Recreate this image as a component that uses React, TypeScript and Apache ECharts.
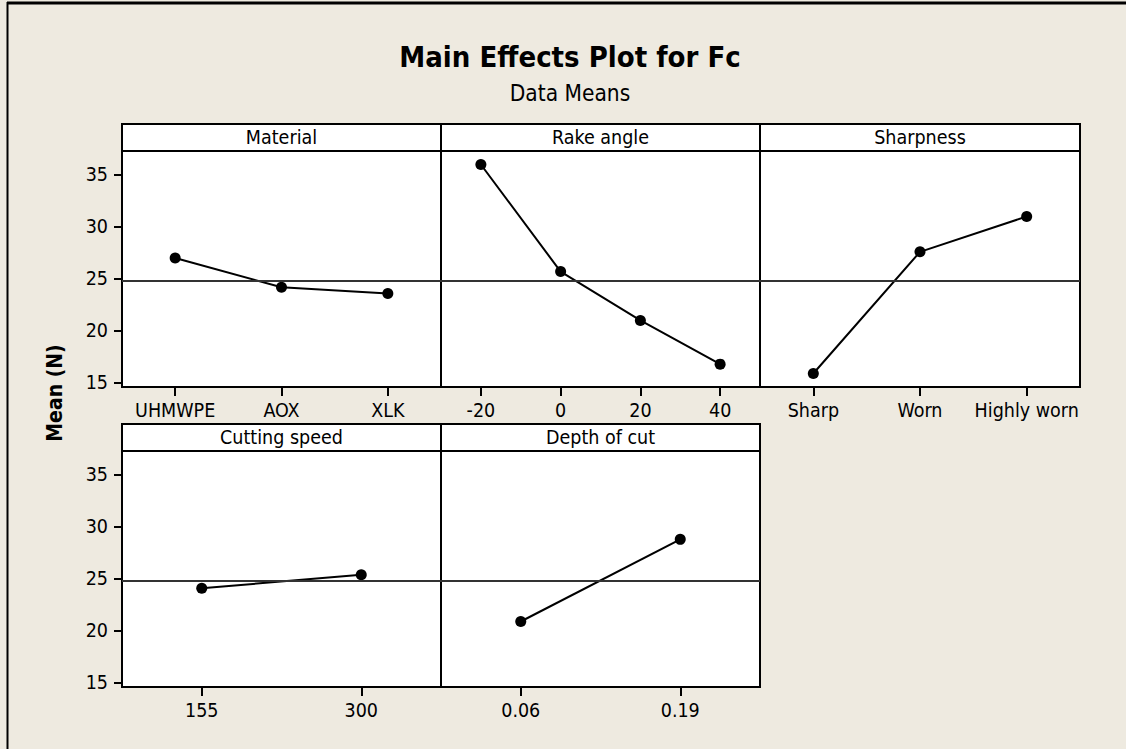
import React, { useEffect, useRef } from "react";
import * as echarts from "echarts";

// ---- data ----
const materialLevels = ["UHMWPE", "AOX", "XLK"];
const materialMeans = [27.0, 24.2, 23.6];
const rakeLevels = ["-20", "0", "20", "40"];
const rakeMeans = [36.0, 25.7, 21.0, 16.8];
const sharpnessLevels = ["Sharp", "Worn", "Highly worn"];
const sharpnessMeans = [15.9, 27.6, 31.0];
const speedLevels = ["155", "300"];
const speedMeans = [24.1, 25.4];
const depthLevels = ["0.06", "0.19"];
const depthMeans = [20.9, 28.8];
const panelTitles = ["Material", "Rake angle", "Sharpness", "Cutting speed", "Depth of cut"];
const grandMean = 24.8;
const yTicks = [15, 20, 25, 30, 35];
const yMin = 14.6;
const yMax = 37.3;

const FONT = '"DejaVu Sans Condensed", "DejaVu Sans", sans-serif';

const panels = [
  { left: 122, top: 151, width: 319, levels: materialLevels, means: materialMeans, yLabels: true },
  { left: 441, top: 151, width: 319, levels: rakeLevels, means: rakeMeans, yLabels: false },
  { left: 760, top: 151, width: 320, levels: sharpnessLevels, means: sharpnessMeans, yLabels: false },
  { left: 122, top: 451, width: 319, levels: speedLevels, means: speedMeans, yLabels: true },
  { left: 441, top: 451, width: 319, levels: depthLevels, means: depthMeans, yLabels: false },
];
const PANEL_H = 236;
const HEADER_H = 27;

export default function App() {
  const ref = useRef<HTMLDivElement>(null);
  useEffect(() => {
    if (!ref.current) return;
    const chart = echarts.init(ref.current, null, { renderer: "svg" });

    const grid = panels.map((p) => ({
      left: p.left,
      top: p.top,
      width: p.width,
      height: PANEL_H,
      show: true,
      backgroundColor: "#ffffff",
      borderColor: "#000000",
      borderWidth: 2,
      containLabel: false,
    }));

    const xAxis = panels.map((p, i) => ({
      type: "category",
      gridIndex: i,
      data: p.levels,
      boundaryGap: true,
      axisLine: { show: true, lineStyle: { color: "#000", width: 2 } },
      axisTick: { show: true, alignWithLabel: true, length: 9, lineStyle: { color: "#000", width: 2 } },
      axisLabel: { color: "#000", fontSize: 19.5, fontFamily: FONT, margin: 13, interval: 0 },
      splitLine: { show: false },
    }));

    const yAxis = panels.map((p, i) => ({
      type: "value",
      gridIndex: i,
      min: yMin,
      max: yMax,
      axisLine: { show: false },
      axisTick: {
        show: p.yLabels,
        length: 8,
        customValues: yTicks,
        lineStyle: { color: "#000", width: 2 },
      },
      axisLabel: {
        show: p.yLabels,
        customValues: yTicks,
        color: "#000",
        fontSize: 19.5,
        fontFamily: FONT,
        margin: 14,
      },
      splitLine: { show: false },
    }));

    const series = panels.map((p, i) => ({
      type: "line",
      xAxisIndex: i,
      yAxisIndex: i,
      data: p.means,
      symbol: "circle",
      symbolSize: 11,
      itemStyle: { color: "#000" },
      lineStyle: { color: "#000", width: 2 },
      markLine: {
        silent: true,
        symbol: ["none", "none"],
        label: { show: false },
        lineStyle: { color: "#333", width: 2, type: "solid" },
        data: [{ yAxis: grandMean }],
      },
      z: 3,
    }));

    const graphic: any[] = [];
    // outer frame lines
    graphic.push({ type: "line", shape: { x1: 7, y1: 3, x2: 1126, y2: 3 }, style: { stroke: "#000", lineWidth: 3 } });
    graphic.push({ type: "line", shape: { x1: 7.5, y1: 2, x2: 7.5, y2: 749 }, style: { stroke: "#000", lineWidth: 2 } });
    // headers
    panels.forEach((p, i) => {
      graphic.push({
        type: "rect",
        shape: { x: p.left, y: p.top - HEADER_H, width: p.width, height: HEADER_H },
        style: { fill: "#fff", stroke: "#000", lineWidth: 2 },
      });
      graphic.push({
        type: "text",
        x: p.left + p.width / 2,
        y: p.top - HEADER_H / 2,
        style: {
          text: panelTitles[i],
          fill: "#000",
          fontSize: 19.5,
          fontFamily: FONT,
          align: "center",
          verticalAlign: "middle",
        },
      });
    });
    // titles
    graphic.push({
      type: "text",
      x: 570,
      y: 57,
      style: {
        text: "Main Effects Plot for Fc",
        fill: "#000",
        fontSize: 29,
        fontWeight: "bold",
        fontFamily: FONT,
        align: "center",
        verticalAlign: "middle",
      },
    });
    graphic.push({
      type: "text",
      x: 570,
      y: 93,
      style: {
        text: "Data Means",
        fill: "#000",
        fontSize: 22.5,
        fontFamily: FONT,
        align: "center",
        verticalAlign: "middle",
      },
    });
    graphic.push({
      type: "text",
      x: 55,
      y: 393,
      rotation: Math.PI / 2,
      style: {
        text: "Mean (N)",
        fill: "#000",
        fontSize: 21,
        fontWeight: "bold",
        fontFamily: FONT,
        align: "center",
        verticalAlign: "middle",
      },
    });

    chart.setOption({
      animation: false,
      backgroundColor: "#EEEAE0",
      grid,
      xAxis,
      yAxis,
      series,
      graphic,
    });
    return () => chart.dispose();
  }, []);

  return (
    <div
      ref={ref}
      style={{ position: "fixed", left: 0, top: 0, width: 1126, height: 749 }}
    />
  );
}
